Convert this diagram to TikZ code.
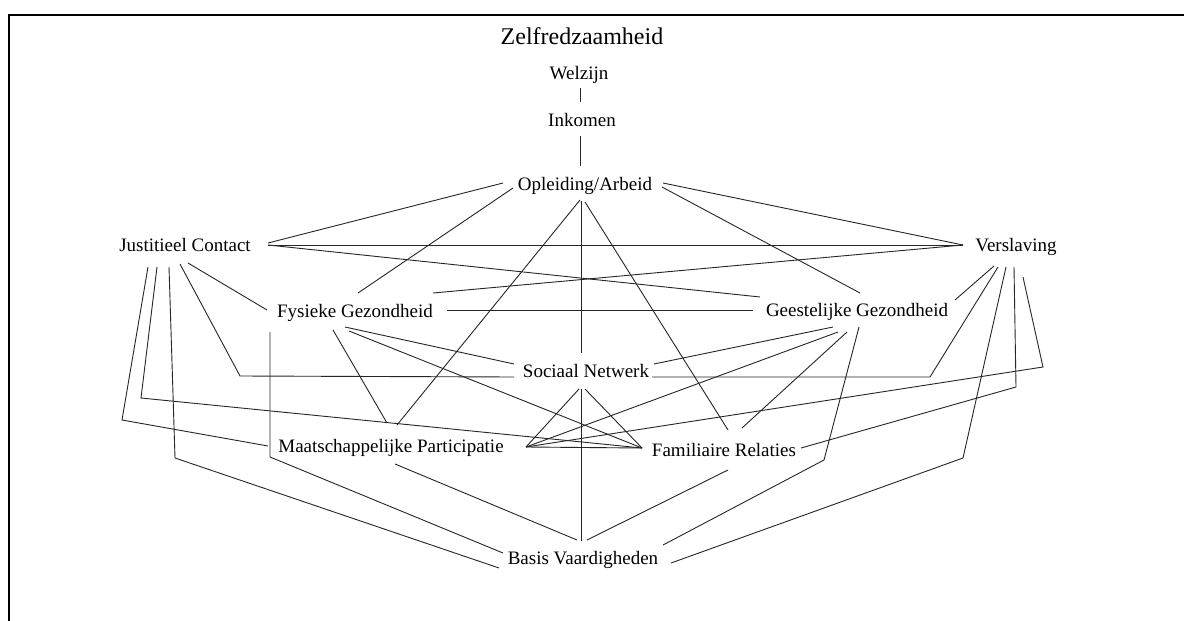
\documentclass[tikz,border=0pt]{standalone}
\usepackage{fontspec}
\setmainfont{Liberation Serif}
\usetikzlibrary{calc}
\begin{document}
\begin{tikzpicture}[x=1pt,y=-1pt,
  lbl/.style={inner sep=0pt,outer sep=0pt,font=\fontsize{19}{22}\selectfont,text height=12.5pt,text depth=0pt},
  ttl/.style={inner sep=0pt,outer sep=0pt,font=\fontsize{24}{28}\selectfont,text height=16pt,text depth=0pt},
  link/.style={draw=black!85,line width=0.9pt},
  frame/.style={draw=black,line width=2.6pt}]
\useasboundingbox (0,0) rectangle (1184,621);
\fill[white] (0,0) rectangle (1184,621);
% open frame: top and left edges
\coordinate (fa) at (9,15);
\coordinate (fb) at (1184,15);
\coordinate (fc) at (9,621);
\draw[frame] (fb) -- (fa) -- (fc);

% labels
\node[ttl] (T) at (582,37) {Zelfredzaamheid};
\node[lbl] (W) at (579,73) {Welzijn};
\node[lbl] (I) at (582,120) {Inkomen};
\node[lbl] (O) at (585,184) {Opleiding/Arbeid};
\node[lbl] (J) at (185,245) {Justitieel Contact};
\node[lbl] (V) at (1016,245) {Verslaving};
\node[lbl] (F) at (355,311) {Fysieke Gezondheid};
\node[lbl] (G) at (857,310) {Geestelijke Gezondheid};
\node[lbl] (S) at (586,371) {Sociaal Netwerk};
\node[lbl] (M) at (391,446) {Maatschappelijke Participatie};
\node[lbl] (R) at (724,450) {Familiaire Relaties};
\node[lbl] (B) at (583,558) {Basis Vaardigheden};

% top chain
\draw[link] ($(W)+(1,15)$) -- ($(I)+(-2,-18)$);
\draw[link] ($(I)+(-2,16)$) -- ($(O)+(-5,-18)$);

% Opleiding/Arbeid
\draw[link] ($(O)+(-82,-1)$) -- ($(J)+(83,-2)$);
\draw[link] ($(O)+(-72,4)$) -- ($(F)+(3,-18)$);
\draw[link] ($(O)+(78,-1)$) -- ($(V)+(-53,0)$);
\draw[link] ($(O)+(77,3)$) -- ($(G)+(3,-17)$);
\draw[link] ($(O)+(-4,17)$) -- ($(S)+(-5,-18)$);
\draw[link] ($(O)+(-5,16)$) -- ($(M)+(6,-21)$);
\draw[link] ($(O)+(0,18)$) -- ($(R)+(4,-20)$);

% Justitieel Contact
\draw[link] ($(J)+(83,0)$) -- ($(V)+(-53,0)$);
\draw[link] ($(J)+(83,0)$) -- ($(G)+(-97,-13)$);
\draw[link] ($(J)+(3,18)$) -- ($(F)+(-88,-1)$);
\draw[link] ($(J)+(-5,19)$) -- (240,376) -- ($(S)+(-72,6)$);
\draw[link] ($(J)+(-16,22)$) -- (175,458) -- ($(B)+(-84,10)$);
\draw[link] ($(J)+(-28,22)$) -- (141,398) -- ($(R)+(-82,-2)$);
\draw[link] ($(J)+(-37,22)$) -- (122,420) -- ($(M)+(-123,0)$);

% Verslaving
\draw[link] ($(V)+(-53,0)$) -- ($(F)+(78,-18)$);
\draw[link] ($(V)+(-22,21)$) -- ($(G)+(98,-10)$);
\draw[link] ($(V)+(-18,22)$) -- (930,377) -- ($(S)+(66,6)$);
\draw[link] ($(V)+(-10,22)$) -- (963,458) -- ($(B)+(88,5)$);
\draw[link] ($(V)+(-2,22)$) -- (1016,387) -- ($(R)+(77,-2)$);
\draw[link] ($(V)+(7,32)$) -- (1043,367) -- ($(M)+(135,1)$);

% Fysieke Gezondheid
\draw[link] ($(F)+(92,-1)$) -- ($(G)+(-104,0)$);
\draw[link] ($(F)+(-10,16)$) -- ($(S)+(-72,-7)$);
\draw[link] ($(F)+(-6,20)$) -- ($(R)+(-82,-2)$);
\draw[link] ($(F)+(-22,19)$) -- ($(M)+(-4,-23)$);
\draw[link] ($(F)+(-85,21)$) -- (270,457) -- ($(B)+(-80,-5)$);

% Geestelijke Gezondheid
\draw[link] ($(G)+(-24,17)$) -- ($(S)+(68,-7)$);
\draw[link] ($(G)+(-19,22)$) -- ($(M)+(135,1)$);
\draw[link] ($(G)+(-10,22)$) -- ($(R)+(18,-22)$);
\draw[link] ($(G)+(2,17)$) -- (824,460) -- ($(B)+(80,-13)$);

% Sociaal Netwerk
\draw[link] ($(S)+(-7,18)$) -- ($(M)+(135,1)$);
\draw[link] ($(S)+(-5,18)$) -- ($(B)+(-2,-17)$);
\draw[link] ($(S)+(-1,18)$) -- ($(R)+(-82,-2)$);

% Maatschappelijke Participatie and Familiaire Relaties
\draw[link] ($(M)+(135,1)$) -- ($(R)+(-82,-2)$);
\draw[link] ($(M)+(4,18)$) -- ($(B)+(-6,-18)$);
\draw[link] ($(R)+(4,20)$) -- ($(B)+(4,-18)$);
\end{tikzpicture}
\end{document}
